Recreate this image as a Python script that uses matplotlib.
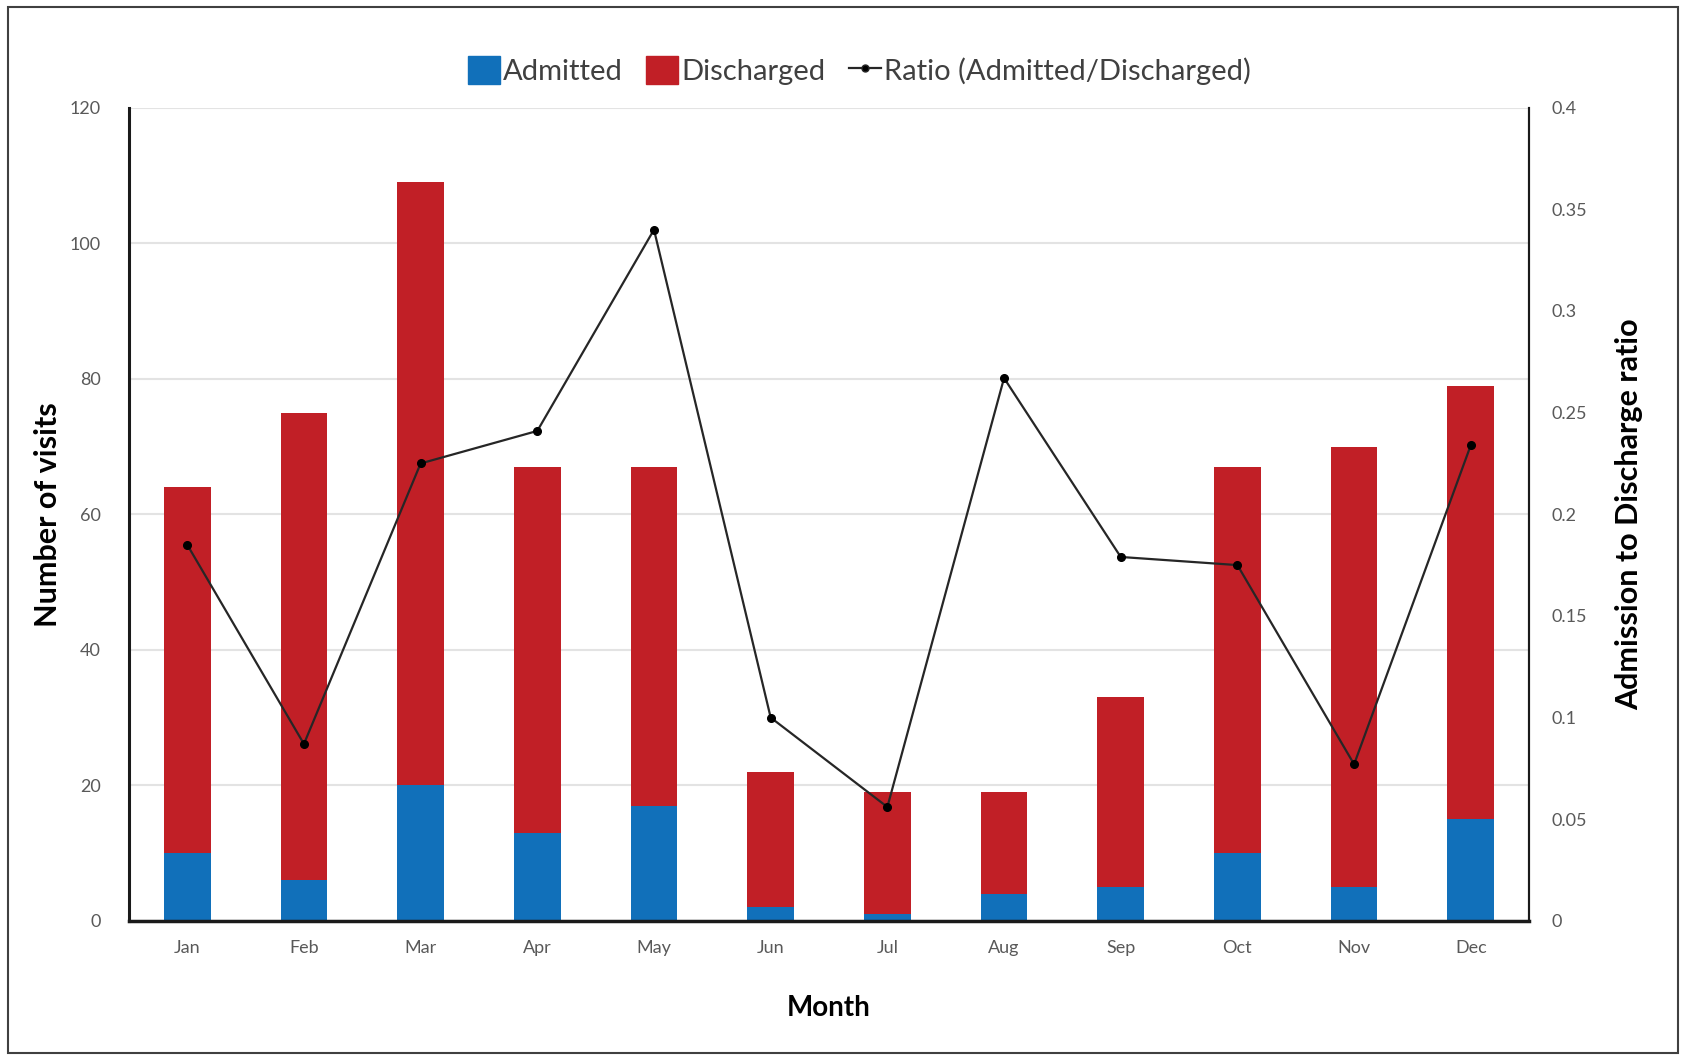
import matplotlib.pyplot as plt
from matplotlib.patches import Rectangle
from matplotlib.lines import Line2D
from matplotlib.patches import Patch
import numpy as np

plt.rcParams['font.family'] = ['Lato', 'DejaVu Sans']

months = ["Jan", "Feb", "Mar", "Apr", "May", "Jun",
          "Jul", "Aug", "Sep", "Oct", "Nov", "Dec"]
admitted = [10, 6, 20, 13, 17, 2, 1, 4, 5, 10, 5, 15]
discharged = [54, 69, 89, 54, 50, 20, 18, 15, 28, 57, 65, 64]
ratio = [0.185, 0.087, 0.225, 0.241, 0.340, 0.100,
         0.056, 0.267, 0.179, 0.175, 0.077, 0.234]

blue = "#1170ba"
red = "#c11f26"
tick_grey = "#595959"

fig = plt.figure(figsize=(16.85, 10.56), dpi=100)
ax = fig.add_axes([0.0765, 0.128, 0.831, 0.770])

x = np.arange(len(months))
ax.bar(x, admitted, width=0.4, color=blue, zorder=2)
ax.bar(x, discharged, width=0.4, bottom=admitted, color=red, zorder=2)

ax.set_ylim(0, 120)
ax.set_xlim(-0.5, len(months) - 0.5)
ax.set_yticks(range(0, 121, 20))
ax.set_xticks(x)
ax.set_xticklabels(months)
ax.yaxis.grid(True, color="#e3e3e3", linewidth=1.5, zorder=0)
ax.set_axisbelow(True)
ax.tick_params(length=0, labelsize=13, labelcolor=tick_grey)
ax.tick_params(axis="x", pad=14)
ax.tick_params(axis="y", pad=20)
ax.spines["top"].set_visible(False)
for s in ["left", "bottom", "right"]:
    ax.spines[s].set_color("#1a1a1a")
ax.spines["left"].set_linewidth(2.2)
ax.spines["bottom"].set_linewidth(2.5)
ax.spines["right"].set_linewidth(1.5)
ax.set_ylabel("Number of visits", fontsize=22, fontweight="bold", labelpad=6)
ax.set_xlabel("Month", fontsize=20, fontweight="bold", labelpad=28)

ax2 = ax.twinx()
ax2.plot(x, ratio, color="#262626", linewidth=1.6, marker="o",
         markersize=5.5, markerfacecolor="black", markeredgecolor="black", zorder=3)
ax2.set_ylim(0, 0.4)
ax2.set_yticks(np.arange(0, 0.41, 0.05))
ax2.set_yticklabels(["0", "0.05", "0.1", "0.15", "0.2", "0.25", "0.3", "0.35", "0.4"])
ax2.tick_params(length=0, labelsize=13, labelcolor=tick_grey, pad=16)
ax2.spines["top"].set_visible(False)
ax2.spines["left"].set_visible(False)
ax2.spines["bottom"].set_visible(False)
ax2.spines["right"].set_color("#1a1a1a")
ax2.spines["right"].set_linewidth(1.5)
ax2.set_ylabel("Admission to Discharge ratio", fontsize=22, fontweight="bold", labelpad=20)

handles = [Patch(color=blue, label="Admitted"),
           Patch(color=red, label="Discharged"),
           Line2D([0], [0], color="#262626", linewidth=1.6, marker="o",
                  markersize=5, markerfacecolor="black", label="Ratio (Admitted/Discharged)")]
leg = fig.legend(handles=handles, loc="center", bbox_to_anchor=(0.51, 0.933),
                 ncol=3, frameon=False, fontsize=21, handlelength=1.1,
                 handleheight=1.1, handletextpad=0.1, columnspacing=0.8)
for t in leg.get_texts():
    t.set_color("#404040")

fig.patches.append(Rectangle((0.005, 0.003), 0.991, 0.990, transform=fig.transFigure,
                             fill=False, edgecolor="#404040", linewidth=1.5))

fig.savefig("out.png", dpi=100)
